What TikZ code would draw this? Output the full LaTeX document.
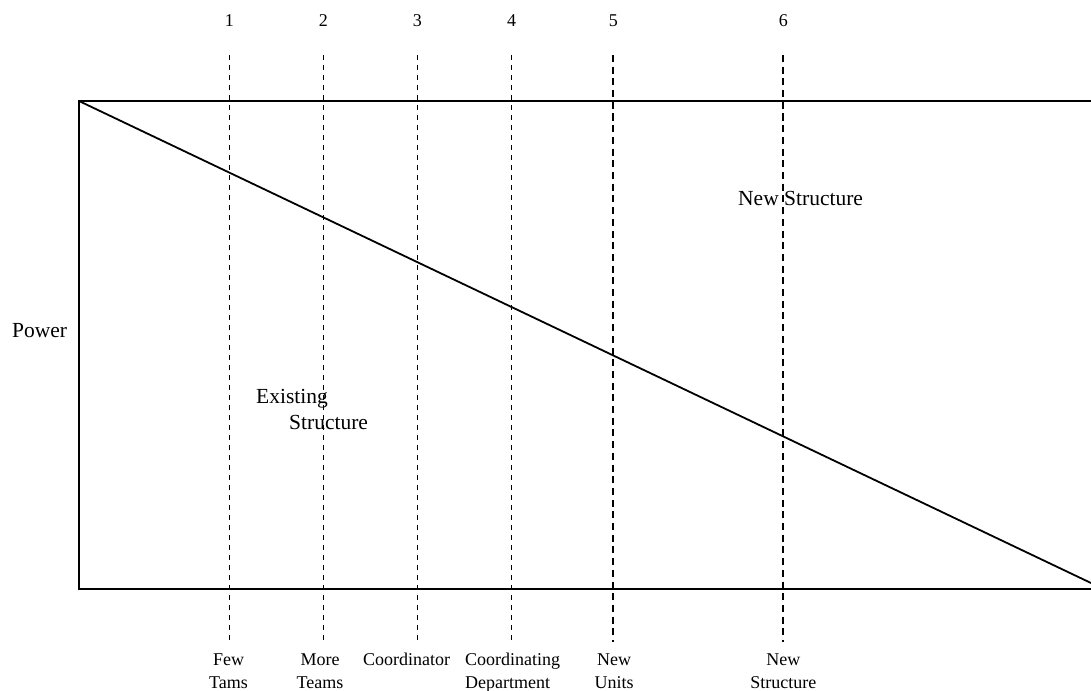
\documentclass[tikz,border=0pt]{standalone}
\usepackage{fontspec}
\setmainfont{Liberation Serif}
\begin{document}
\begin{tikzpicture}[x=1pt,y=-1pt,
  frame/.style={line width=2pt},
  diag/.style={line width=1.8pt},
  thindash/.style={line width=1pt,dash pattern=on 5pt off 5pt},
  thickdash/.style={line width=2pt,dash pattern=on 7pt off 4.7pt},
  bigtxt/.style={font=\fontsize{21.5}{26}\selectfont,inner sep=0pt},
  smalltxt/.style={font=\fontsize{18}{22.5}\selectfont,inner sep=0pt,anchor=base},
  numtxt/.style={font=\fontsize{18}{22}\selectfont,inner sep=0pt,anchor=base}]
\useasboundingbox (0,0) rectangle (1091,690);
% frame
\coordinate (tl) at (79,101);
\coordinate (bl) at (79,589);
\coordinate (tr) at (1091,101);
\coordinate (br) at (1091,589);
\coordinate (de) at (1091,583);
\draw[frame] (tr) -- (tl) -- (bl) -- (br);
\draw[diag] (tl) -- (de);
% dashed lines
\foreach \i/\x in {1/229.3,2/323.3,3/417.3,4/511.7,5/613.3,6/783.3}{
  \coordinate (t\i) at (\x,55);
  \coordinate (b\i) at (\x,642);
  \node[numtxt] (n\i) at (\x,27) {\i};
}
\foreach \i in {1,2,3,4}{\draw[thindash] (t\i) -- (b\i);}
\foreach \i in {5,6}{\draw[thickdash] (t\i) -- (b\i);}
% labels
\node[bigtxt,anchor=base west] (power) at (12,337) {Power};
\node[bigtxt,anchor=base west] (exist1) at (256,403) {Existing};
\node[bigtxt,anchor=base west] (exist2) at (289,429) {Structure};
\node[bigtxt,anchor=base west] (newst) at (738,205) {New Structure};
% bottom labels
\node[smalltxt] (l1a) at (228.5,665) {Few};
\node[smalltxt] (l1b) at (228.5,688) {Tams};
\node[smalltxt] (l2a) at (320,665) {More};
\node[smalltxt] (l2b) at (320,688) {Teams};
\node[smalltxt,anchor=base west] (l3a) at (363,665) {Coordinator};
\node[smalltxt,anchor=base west] (l4a) at (465,665) {Coordinating};
\node[smalltxt,anchor=base west] (l4b) at (465,688) {Department};
\node[smalltxt] (l5a) at (614,665) {New};
\node[smalltxt] (l5b) at (614,688) {Units};
\node[smalltxt] (l6a) at (783.3,665) {New};
\node[smalltxt] (l6b) at (783.3,688) {Structure};
\end{tikzpicture}
\end{document}
